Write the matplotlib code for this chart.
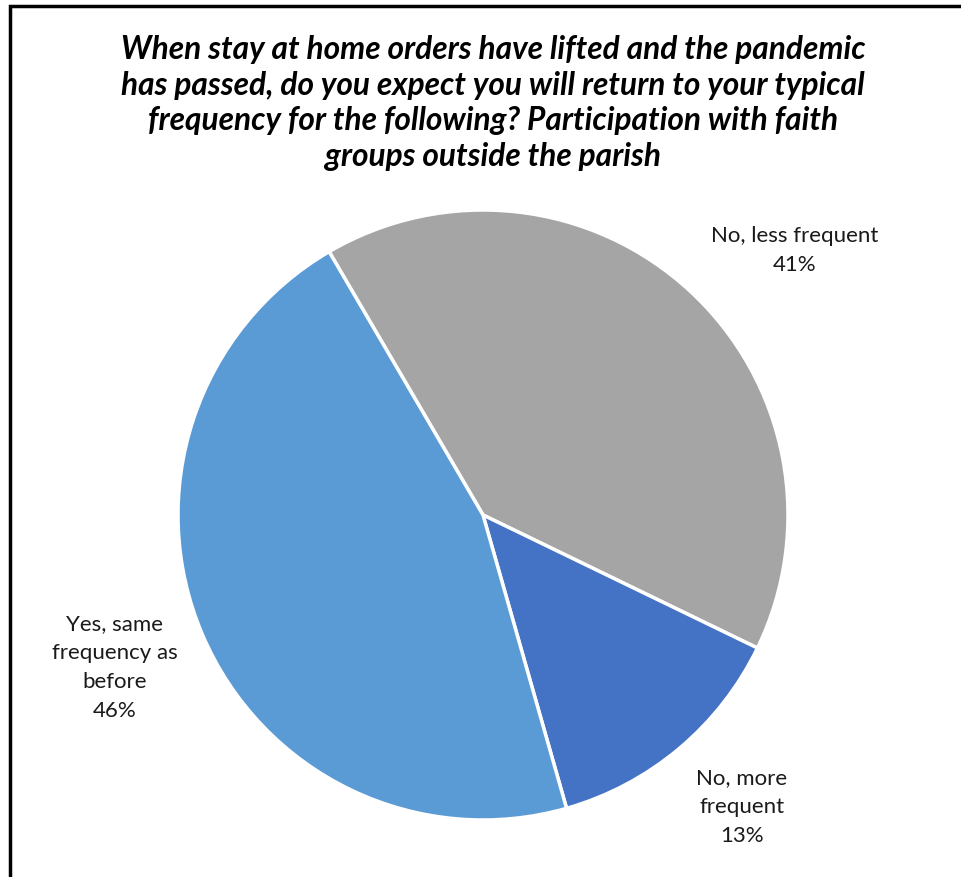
# pie chart: return to typical frequency - faith groups outside the parish
import matplotlib.pyplot as plt
from matplotlib.patches import Rectangle

categories = ['No, less frequent', 'No, more frequent', 'Yes, same frequency as before']
shares = [40.6, 13.4, 46.0]
label_text = ['No, less frequent\n41%', 'No, more\nfrequent\n13%', 'Yes, same\nfrequency as\nbefore\n46%']
colors = ['#A5A5A5', '#4472C4', '#5B9BD5']

title = ('When stay at home orders have lifted and the pandemic\n'
         'has passed, do you expect you will return to your typical\n'
         'frequency for the following? Participation with faith\n'
         'groups outside the parish')

plt.rcParams['font.family'] = ['Lato', 'DejaVu Sans']

fig = plt.figure(figsize=(9.61, 8.77), dpi=100)

# frame (only left and top edges show in the crop)
fig.patches.append(Rectangle((10 / 961, -0.1), 1.2, 1.1 - 6 / 877, transform=fig.transFigure,
                             fill=False, edgecolor='black', linewidth=2.5))

# title
fig.text(493 / 961, 1 - 103 / 877, title, ha='center', va='center',
         fontsize=22.8, fontweight='bold', fontstyle='italic', linespacing=1.29)

# pie axes: center (483, 515) px, radius 305 px
ax = fig.add_axes([178 / 961, 57 / 877, 610 / 961, 610 / 877])
ax.pie(shares, colors=colors, startangle=120.3, counterclock=False, radius=1,
       wedgeprops=dict(edgecolor='white', linewidth=2.5))
ax.set_xlim(-1, 1)
ax.set_ylim(-1, 1)
ax.set_aspect('equal')
ax.axis('off')

label_pos = [(1.023, 0.866), (0.849, -0.957), (-1.207, -0.5)]
for txt, (x, y) in zip(label_text, label_pos):
    ax.text(x, y, txt, ha='center', va='center', fontsize=16, linespacing=1.56,
            color='#1a1a1a', clip_on=False)

fig.savefig('out.png', dpi=100)
